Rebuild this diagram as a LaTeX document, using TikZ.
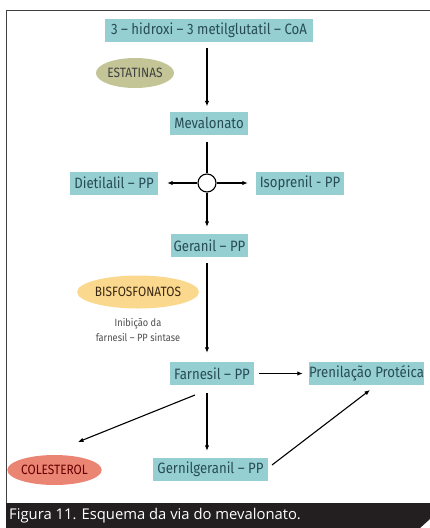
\documentclass[tikz,border=0pt]{standalone}
\usepackage{fontspec}
\usepackage{xcolor}
\usetikzlibrary{arrows.meta,positioning,shapes.geometric}

\setmainfont{Open Sans}
\newfontfamily\boxfont[FakeStretch=0.88]{Fira Sans}

\definecolor{boxteal}{HTML}{95CFD2}
\definecolor{boxink}{HTML}{284C56}
\definecolor{statolive}{HTML}{C3C596}
\definecolor{bisyellow}{HTML}{FAD98E}
\definecolor{colsalmon}{HTML}{EA8574}
\definecolor{capbar}{HTML}{231F20}

\begin{document}
\begin{tikzpicture}[x=1pt,y=-1pt,
    stepbox/.style={fill=boxteal, text=boxink, inner sep=0pt, minimum height=23pt,
        font=\boxfont\fontsize{15}{17}\selectfont},
    drugpill/.style={ellipse, inner sep=0pt, font=\boxfont\fontsize{13.5}{15}\selectfont},
    flow/.style={line width=1.1pt, -{Latex[length=5.5pt,width=4.5pt]}},
    link/.style={line width=1.1pt}]

    \useasboundingbox (0,0) rectangle (430,528);

    % moldura e legenda
    \draw[line width=1.6pt, black!75] (6.5,503) -- (6.5,10.5) -- (430,10.5);
    \fill[capbar] (6,503) -- (430,503) -- (430,519) -- (420,528) -- (6,528) -- cycle;
    \node[anchor=west, text=white, inner sep=0pt, font=\fontsize{14.8}{16}\selectfont] (legenda) at (9,516)
        {Figura 11. Esquema da via do mevalonato.};

    % etapas da via
    \node[stepbox, minimum width=208pt] (hmg) at (209,30.5) {3 – hidroxi – 3 metilglutatil – CoA};
    \node[stepbox, minimum width=78pt] (mev) at (209,123) {Mevalonato};
    \node[draw, circle, line width=1.1pt, minimum size=18pt, inner sep=0pt] (nodo) at (207,183) {};
    \node[stepbox, minimum width=88pt] (dieti) at (114,183) {Dietilalil – PP};
    \node[stepbox, minimum width=88pt] (iso) at (300,183) {Isoprenil - PP};
    \node[stepbox, minimum width=77pt] (ger) at (209.5,245.5) {Geranil – PP};
    \node[stepbox, minimum width=84pt] (farn) at (212,373.5) {Farnesil – PP};
    \node[stepbox, minimum width=115pt] (pren) at (366.5,373.5) {Prenilação Protéica};
    \node[stepbox, minimum width=115pt] (gger) at (210.5,469.5) {Gernilgeranil – PP};

    % inibidores e produtos
    \node[drugpill, fill=statolive, text=black!75, minimum width=70pt, minimum height=30pt] (estat) at (135,73) {ESTATINAS};
    \node[drugpill, fill=bisyellow, text=black!70!brown, minimum width=100pt, minimum height=33pt] (bisf) at (138,292) {BISFOSFONATOS};
    \node[align=center, text=black!70, inner sep=0pt, font=\boxfont\fontsize{10.5}{15}\selectfont] (inib) at (138,329.5)
        {Inibição da\\farnesil – PP sintase};
    \node[drugpill, fill=colsalmon, text=red!40!black, minimum width=81pt, minimum height=30pt] (col) at (54.5,470) {COLESTEROL};

    \coordinate (farnsai) at (195,395);
    \coordinate (colche) at (78,442);
    \coordinate (ggsai) at (272,465);
    \coordinate (prenche) at (370,390);

    % setas
    \draw[flow, shorten <=6pt, shorten >=5pt] (hmg.south -| nodo) -- (mev.north -| nodo);
    \draw[link, shorten <=7pt] (mev.south -| nodo) -- (nodo);
    \draw[flow, shorten >=9pt] (nodo) -- (dieti);
    \draw[flow, shorten >=8pt] (nodo) -- (iso);
    \draw[flow, shorten >=7pt] (nodo) -- (ger.north -| nodo);
    \draw[flow, shorten <=6pt, shorten >=9pt] (ger.south -| nodo) -- (farn.north -| nodo);
    \draw[flow, shorten <=5pt, shorten >=6pt] (farn) -- (pren);
    \draw[flow, shorten <=8pt, shorten >=7pt] (farn.south -| nodo) -- (gger.north -| nodo);
    \draw[flow] (farnsai) -- (colche);
    \draw[flow] (ggsai) -- (prenche);
\end{tikzpicture}
\end{document}
